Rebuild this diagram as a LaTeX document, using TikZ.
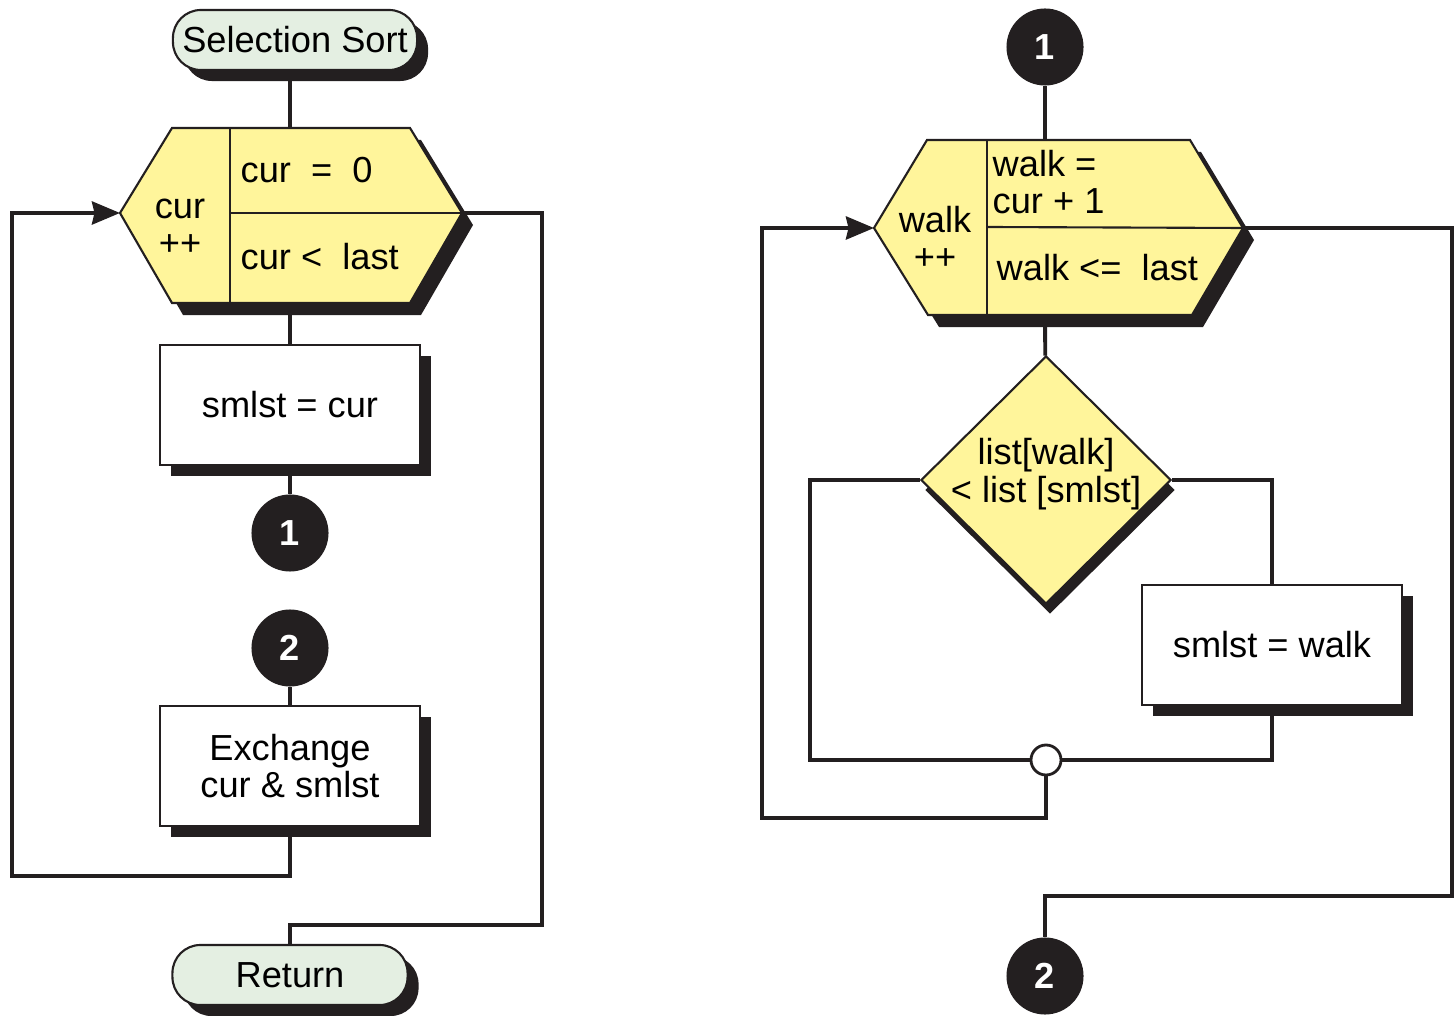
\documentclass[tikz,border=0pt]{standalone}
\usepackage{fontspec}
\setmainfont{Liberation Sans}
\usetikzlibrary{shapes.geometric,shadows,arrows.meta}

\definecolor{ink}{HTML}{231F20}
\definecolor{termfill}{HTML}{E4EFE2}
\definecolor{loopfill}{HTML}{FFF59B}
\newcommand{\chartfont}{\fontsize{10.3pt}{10.6pt}\selectfont}

\tikzset{
  solidshadow/.style={drop shadow={shadow xshift=1.1mm,shadow yshift=-1.1mm,fill=ink,opacity=1}},
  terminal/.style={draw=ink,line width=0.6pt,fill=termfill,rectangle,rounded corners=2.8mm,
    minimum height=6mm,inner sep=0pt,font=\chartfont,solidshadow},
  process/.style={draw=ink,line width=0.6pt,fill=white,rectangle,minimum width=2.6cm,
    minimum height=1.2cm,align=center,font=\chartfont,solidshadow},
  decision/.style={draw=ink,line width=0.6pt,fill=loopfill,diamond,minimum width=2.5cm,
    minimum height=2.48cm,inner sep=0pt,
    drop shadow={shadow xshift=0.4mm,shadow yshift=-1.0mm,fill=ink,opacity=1}},
  loopbox/.style={draw=ink,line width=0.6pt,fill=loopfill,
    drop shadow={shadow xshift=1.1mm,shadow yshift=-1.2mm,fill=ink,opacity=1}},
  divider/.style={draw=ink,line width=0.6pt},
  pageconn/.style={circle,fill=ink,minimum size=7.7mm,inner sep=0pt,text=white,
    font=\chartfont\bfseries},
  joint/.style={circle,draw=ink,line width=0.8pt,fill=white,minimum size=3mm,inner sep=0pt},
  flow/.style={draw=ink,line width=1.1pt},
  flowin/.style={flow,-{Stealth[length=2.8mm,width=2.3mm,inset=0.25mm]}},
  txt/.style={font=\chartfont,inner sep=0pt,align=center},
}

\begin{document}
\begin{tikzpicture}[x=0.01cm,y=-0.01cm]
    \useasboundingbox (0,0) rectangle (1455,1016);

    %% ---------------- Outer loop ----------------
    \node[terminal,minimum width=2.44cm] (start) at (295,40) {Selection Sort};

    %% Loop hexagon
    \coordinate (sortW) at (120,213);
    \coordinate (sortE) at (462,213);
    \coordinate (sortN) at (290,128);
    \coordinate (sortS) at (290,303);
    \path[loopbox] (sortW) -- (172,128) -- (410,128) -- (sortE) -- (410,303) -- (172,303) -- cycle;
    \draw[divider] (230,128) -- (230,303);
    \draw[divider] (230,213) -- (sortE);
    \node[txt] (sortinc) at (180,227) {cur\\++};
    \node[txt,anchor=west] (sortinit) at (240,170) {cur\ \ =\ \ 0};
    \node[txt,anchor=west] (sorttest) at (240,257) {cur <\ \ last};

    %% Body
    \node[process] (setmin) at (290,405) {smlst = cur};
    \node[pageconn] (outA) at (290,533) {1};
    \node[pageconn] (inB) at (290,648) {2};
    \node[process] (swap) at (290,766) {Exchange\\cur \& smlst};
    \node[terminal,minimum width=2.35cm] (stop) at (290,975) {Return};

    %% Flow lines
    \coordinate (sortback) at (12,876);
    \coordinate (sortexit) at (542,925);
    \draw[flow] (sortN |- start.south) -- (sortN);
    \draw[flow] (sortS) -- (setmin);
    \draw[flow] (setmin) -- (outA);
    \draw[flow] (inB) -- (swap);
    \draw[flowin] (swap.south) |- (sortback) |- (sortW);
    \draw[flow] (sortE) -| (sortexit) -| (stop.north);

    %% ---------------- Inner loop ----------------
    \node[pageconn] (inA) at (1045,47) {1};

    %% Loop hexagon
    \coordinate (walkW) at (874,228);
    \coordinate (walkE) at (1243,228);
    \coordinate (walkN) at (1045,140);
    \coordinate (walkS) at (1045,315);
    \path[loopbox] (walkW) -- (927,140) -- (1190,140) -- (walkE) -- (1192,315) -- (928,315) -- cycle;
    \draw[divider] (987,140) -- (987,315);
    \draw[divider] (987,227) -- (walkE);
    \node[txt] (walkinc) at (935,238) {walk\\++};
    \node[txt,anchor=west,align=left] (walkinit) at (992,182) {walk =\\cur + 1};
    \node[txt,anchor=west] (walktest) at (996,268) {walk <=\ \ last};

    %% Compare
    \node[decision] (cmp) at (1046,480) {};
    \node[txt] (cmptext) at (1046,474) {list[walk]\\< list [smlst]};
    \node[process] (newmin) at (1272,645) {smlst = walk};
    \node[joint] (merge) at (1046,760) {};
    \node[pageconn] (outB) at (1045,976) {2};

    %% Flow lines
    \coordinate (cmpleft) at (810,760);
    \coordinate (walkback) at (762,818);
    \coordinate (walkexit) at (1452,896);
    \draw[flow] (inA) -- (walkN);
    \draw[flow] (walkS) -- (cmp);
    \draw[flow] (cmp.west) -| (cmpleft) -- (merge);
    \draw[flow] (cmp.east) -| (newmin.north);
    \draw[flow] (newmin.south) |- (merge);
    \draw[flowin] (merge) |- (walkback) |- (walkW);
    \draw[flow] (walkE) -| (walkexit) -| (outB);
\end{tikzpicture}
\end{document}
